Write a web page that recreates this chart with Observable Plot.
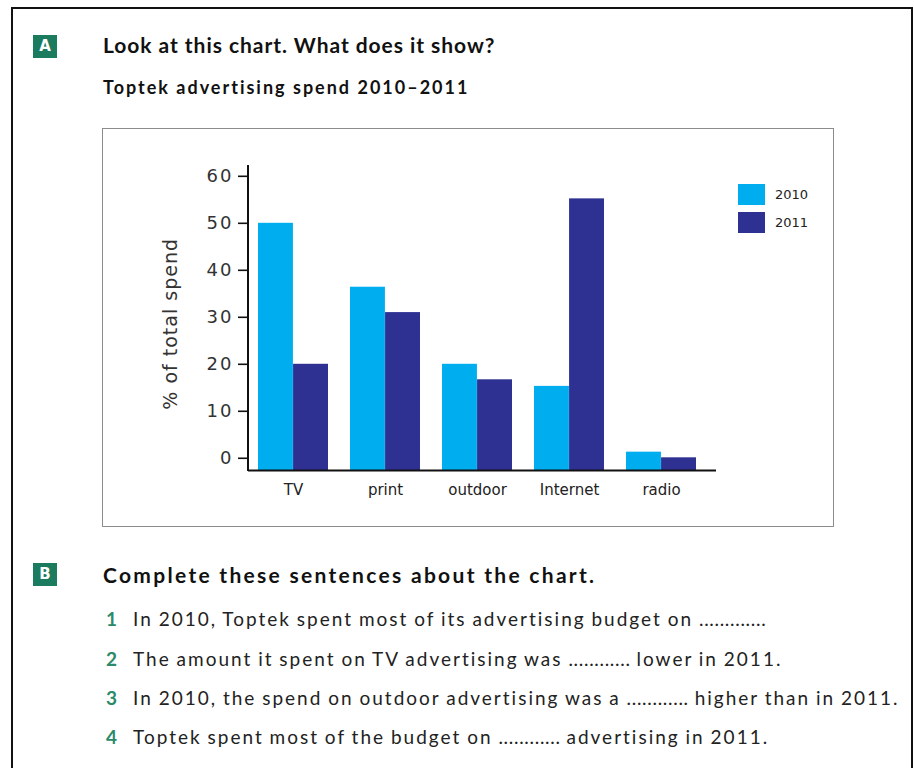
<!DOCTYPE html>
<html>
<head>
<meta charset="utf-8">
<script src="https://cdn.jsdelivr.net/npm/d3@7"></script>
<script src="https://cdn.jsdelivr.net/npm/@observablehq/plot@0.6"></script>
<style>
  html, body { margin: 0; padding: 0; background: #fff; }
  #page { position: relative; width: 914px; height: 768px; overflow: hidden; background: #fff; font-family: Lato, "Open Sans", sans-serif; color: #111; }
  #outer { position: absolute; left: 11px; top: 7px; width: 898px; height: 900px; border: 2px solid #111; border-bottom: none; }
  .badge { position: absolute; width: 24px; height: 23px; background: #1b7b5f; color: #fff; font: bold 15px "DejaVu Sans", sans-serif; text-align: center; line-height: 23px; }
  .head { position: absolute; left: 103px; font-weight: bold; white-space: nowrap; }
  #panel { position: absolute; left: 102px; top: 128px; width: 732px; height: 399px; box-sizing: border-box; border: 1.5px solid #8c8c8c; }
  #chart { position: absolute; left: 102px; top: 128px; }
  #legend { position: absolute; left: 738px; top: 184px; }
  .li { display: flex; align-items: center; height: 21px; margin-bottom: 7px; font: 13px "DejaVu Sans", sans-serif; color: #222; }
  .sw { width: 27px; height: 21px; margin-right: 10px; }
  .q { position: absolute; left: 106px; white-space: nowrap; font-size: 19px; letter-spacing: 2px; word-spacing: -1px; color: #222; }
  .q .n { color: #2a8a6a; font-weight: bold; display: inline-block; width: 27px; letter-spacing: 0; }
  .q .dots { letter-spacing: 0.7px; }
</style>
</head>
<body>
<div id="page">
  <div id="outer"></div>
  <div class="badge" style="left:33px; top:35px;">A</div>
  <div class="head" style="top:32px; font-size:21px; letter-spacing:0.95px;">Look at this chart. What does it show?</div>
  <div class="head" style="top:76px; font-size:18px; letter-spacing:2px;">Toptek advertising spend 2010–2011</div>
  <div id="panel"></div>
  <div id="chart"></div>
  <div id="legend"></div>
  <div class="badge" style="left:33px; top:563px;">B</div>
  <div class="head" style="top:562px; font-size:21px; letter-spacing:2.3px;">Complete these sentences about the chart.</div>
  <div id="questions"></div>
</div>
<script>
// ---- data ----
const categories = ["TV", "print", "outdoor", "Internet", "radio"];
const years = ["2010", "2011"];
const spend2010 = [50, 36.4, 20, 15.3, 1.3];
const spend2011 = [20, 31, 16.7, 55.2, 0.1];
const yTicks = [0, 10, 20, 30, 40, 50, 60];
const yLabel = "% of total spend";
const colors = ["#00aeef", "#2e3192"];
const sentences = [
  ["In 2010, Toptek spent most of its advertising budget on ", "............", "."],
  ["The amount it spent on TV advertising was ", "............", " lower in 2011."],
  ["In 2010, the spend on outdoor advertising was a ", "............", " higher than in 2011."],
  ["Toptek spent most of the budget on ", "............", " advertising in 2011."]
];

const data = categories.flatMap((c, i) => [
  {category: c, year: years[0], value: spend2010[i]},
  {category: c, year: years[1], value: spend2011[i]}
]);

// ---- layout ----
const W = 732, H = 399;
const mL = 146, mR = 118, mT = 37, mB = 57;
const yDomain = [-2.6, 62.3];
const pInner = 0.239, pOuter = 0.158, align = 0.34;
const bw = d3.scaleBand(categories, [mL, W - mR]).paddingInner(pInner).paddingOuter(pOuter).align(align).bandwidth();

const chart = Plot.plot({
  width: W, height: H,
  marginLeft: mL, marginRight: mR, marginTop: mT, marginBottom: mB,
  style: {fontFamily: "DejaVu Sans, sans-serif", fontSize: "15px", color: "#222", background: "transparent", overflow: "visible"},
  x: {domain: categories, paddingInner: pInner, paddingOuter: pOuter, align, tickSize: 0, tickPadding: 14, label: null},
  y: {domain: yDomain, ticks: yTicks, tickSize: 10, tickPadding: 5, label: null},
  marks: [
    Plot.barY(data.filter(d => d.year === years[0]), {x: "category", y1: yDomain[0], y2: "value", fill: colors[0], insetRight: bw / 2}),
    Plot.barY(data.filter(d => d.year === years[1]), {x: "category", y1: yDomain[0], y2: "value", fill: colors[1], insetLeft: bw / 2}),
    Plot.ruleY([yDomain[0]], {stroke: "#111", strokeWidth: 2})
  ]
});
document.getElementById("chart").appendChild(chart);

// y-axis line & label drawn with d3 on the Plot scales
const svg = d3.select(chart);
const ys = chart.scale("y");
const y0 = ys.apply(yDomain[0]), y1 = ys.apply(yDomain[1]);
svg.append("line").attr("x1", mL).attr("x2", mL).attr("y1", y0 + 1).attr("y2", y1)
  .attr("stroke", "#111").attr("stroke-width", 2);
svg.append("text").attr("transform", `translate(${mL - 71},${ys.apply(28.5)}) rotate(-90)`)
  .attr("text-anchor", "middle").attr("font-size", 19).attr("letter-spacing", 1).attr("fill", "#333").text(yLabel);
svg.selectAll('[aria-label^="y-axis"] line, [aria-label^="y-axis"] path').attr("stroke-width", 1.6).attr("stroke", "#111");
svg.selectAll('[aria-label^="y-axis"] text').attr("font-size", 18).attr("letter-spacing", 2).attr("fill", "#333");

// legend
const legend = d3.select("#legend");
years.forEach((yr, i) => {
  const row = legend.append("div").attr("class", "li");
  row.append("div").attr("class", "sw").style("background", colors[i]);
  row.append("span").text(yr);
});

// questions
const q = d3.select("#questions");
const tops = [607, 647, 686, 725];
sentences.forEach((s, i) => {
  const div = q.append("div").attr("class", "q").style("top", tops[i] + "px");
  div.append("span").attr("class", "n").text(i + 1);
  div.append("span").text(s[0]);
  div.append("span").attr("class", "dots").text(s[1]);
  div.append("span").text(s[2]);
});
</script>
</body>
</html>
